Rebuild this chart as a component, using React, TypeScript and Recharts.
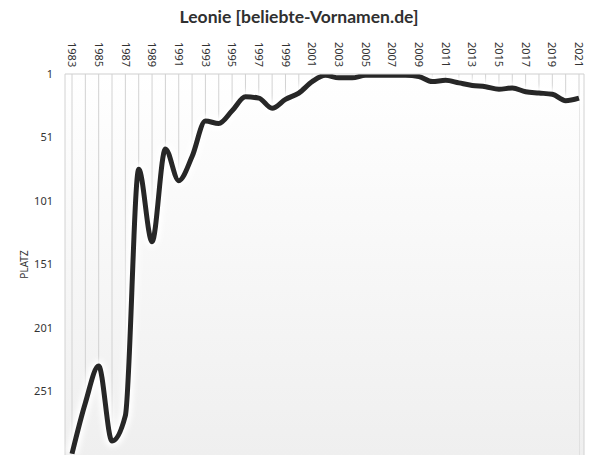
import React from 'react';
import { ComposedChart, Area, Line, XAxis, YAxis, CartesianGrid } from 'recharts';

const years = [
  1983, 1984, 1985, 1986, 1987, 1988, 1989, 1990, 1991, 1992,
  1993, 1994, 1995, 1996, 1997, 1998, 1999, 2000, 2001, 2002,
  2003, 2004, 2005, 2006, 2007, 2008, 2009, 2010, 2011, 2012,
  2013, 2014, 2015, 2016, 2017, 2018, 2019, 2020, 2021,
];

const ranks = [
  300, 260, 231, 290, 270, 76, 133, 60, 85, 66,
  38, 40, 30, 19, 20, 28, 21, 16, 7, 2,
  4, 4, 2, 2, 2, 2, 3, 7, 6, 8,
  10, 11, 13, 12, 15, 16, 17, 22, 20,
];

const yTicks = [1, 51, 101, 151, 201, 251];

const title = 'Leonie [beliebte-Vornamen.de]';
const yLabel = 'PLATZ';

const data = years.map((y, i) => ({ year: String(y), rank: ranks[i] }));

const FONT = '"Noto Sans", "Open Sans", sans-serif';

const YearTick = (props: any) => {
  const { x, payload, index } = props;
  if (index % 2 !== 0) return <g />;
  const ty = 42;
  return (
    <text
      x={x}
      y={ty}
      transform={`rotate(90, ${x}, ${ty})`}
      textAnchor="start"
      dy="0.35em"
      fontSize={11}
      fontFamily={FONT}
      fill="#333"
    >
      {payload.value}
    </text>
  );
};

export default function App() {
  return (
    <div style={{ position: 'absolute', left: 0, top: 0, width: 598, height: 470, background: '#fff' }}>
      <div
        style={{
          position: 'absolute',
          left: 0,
          top: 6,
          width: 598,
          textAlign: 'center',
          fontFamily: 'Lato, "Open Sans", sans-serif',
          fontWeight: 700,
          fontSize: 17.5,
          color: '#303030',
          lineHeight: '22px',
        }}
      >
        {title}
      </div>
      <ComposedChart
        width={598}
        height={470}
        data={data}
        margin={{ top: 0, right: 14, bottom: 15, left: 0 }}
      >
        <defs>
          <linearGradient id="bgGrad" gradientUnits="userSpaceOnUse" x1="0" y1="74" x2="0" y2="455">
            <stop offset="0%" stopColor="#ffffff" />
            <stop offset="100%" stopColor="#efefef" />
          </linearGradient>
          <filter id="glow" x="-20%" y="-20%" width="140%" height="140%">
            <feGaussianBlur stdDeviation="2.5" />
          </filter>
        </defs>
        <CartesianGrid vertical horizontal={false} stroke="#d2d2d2" fill="url(#bgGrad)" fillOpacity={1} />
        <XAxis
          dataKey="year"
          orientation="top"
          height={74}
          interval={0}
          axisLine={{ stroke: '#cfcfcf' }}
          tickLine={false}
          padding={{ left: 7, right: 5 }}
          tick={<YearTick />}
        />
        <YAxis
          type="number"
          reversed
          domain={[1, 301]}
          ticks={yTicks}
          allowDataOverflow
          width={65}
          axisLine={false}
          tickLine={false}
          tickMargin={6}
          tick={{ fontSize: 11, fontFamily: FONT, fill: '#333' }}
          label={{
            value: yLabel,
            angle: -90,
            position: 'insideLeft',
            offset: 24,
            style: { textAnchor: 'middle', fontSize: 10, fontFamily: FONT, fill: '#333' },
          }}
        />
        <Area
          type="monotone"
          dataKey="rank"
          baseValue={301}
          stroke="none"
          fill="url(#bgGrad)"
          fillOpacity={1}
          isAnimationActive={false}
        />
        <Line
          type="monotone"
          dataKey="rank"
          stroke="#ffffff"
          strokeWidth={12}
          dot={false}
          activeDot={false}
          filter="url(#glow)"
          isAnimationActive={false}
        />
        <Line
          type="monotone"
          dataKey="rank"
          stroke="#272727"
          strokeWidth={5}
          dot={false}
          activeDot={false}
          isAnimationActive={false}
        />
      </ComposedChart>
    </div>
  );
}
